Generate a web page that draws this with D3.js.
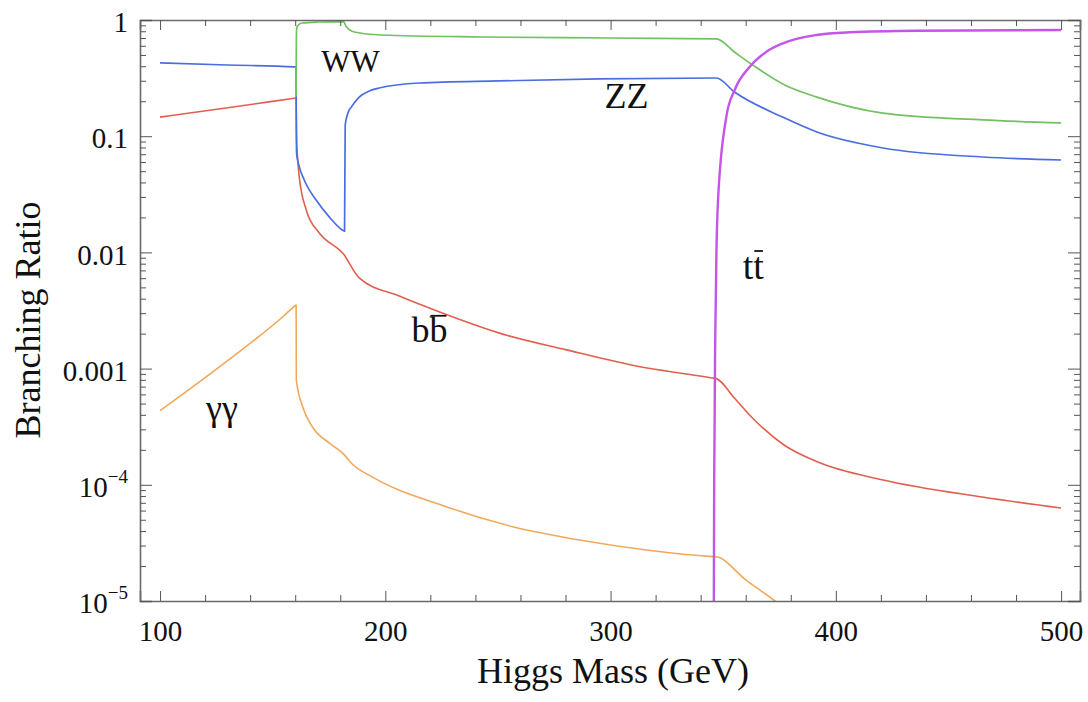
<!DOCTYPE html>
<html>
<head>
<meta charset="utf-8">
<script src="https://cdn.jsdelivr.net/npm/d3@7"></script>
<style>
  body { margin: 0; background: #fff; }
  svg text { font-family: "Liberation Serif", "Times New Roman", serif; fill: #111; }
  .curve { fill: none; stroke-linejoin: round; }
</style>
</head>
<body>
<script>
// branching ratios: [Higgs mass (GeV), BR]
const ww = [
  [160.4, 0.22], [160.5, 0.6], [160.6, 0.82], [161, 0.888], [163, 0.942], [170, 0.961],
  [181.5, 0.97], [182.5, 0.888], [186.3, 0.788], [198.2, 0.743], [242.7, 0.714],
  [300, 0.70], [347, 0.687], [355, 0.53], [363.1, 0.41], [377.3, 0.276], [391.6, 0.217],
  [420.9, 0.158], [465.3, 0.138], [500, 0.130]
];
const zz = [
  [100, 0.427], [130, 0.41], [159.5, 0.395], [160.4, 0.394], [160.5, 0.12], [160.6, 0.0713],
  [161.8, 0.0547], [164, 0.042], [169.3, 0.0282], [175.1, 0.0202], [180.9, 0.0156],
  [181.9, 0.0152], [182.2, 0.125], [183.6, 0.162], [184.9, 0.178], [188.4, 0.217],
  [192.9, 0.245], [197.3, 0.26], [215.1, 0.287], [250.7, 0.299], [295, 0.311], [347, 0.317],
  [355, 0.24], [376.4, 0.146], [391.6, 0.1087], [420.9, 0.0791], [465.3, 0.0662], [500, 0.0624]
];
const bb = [
  [100, 0.146], [130, 0.176], [159.5, 0.2118], [160.4, 0.213], [160.6, 0.093], [160.9, 0.0717],
  [161.8, 0.0446], [164.9, 0.0232], [170.7, 0.0147], [179.6, 0.0105], [181.8, 0.0095],
  [182.7, 0.0089], [188.4, 0.00603], [206.2, 0.00421], [225.3, 0.00301], [250.7, 0.00202],
  [280.4, 0.00145], [309.8, 0.00107], [345.3, 0.00083], [347, 0.00082], [355, 5.58e-4],
  [363, 3.76e-4], [377, 2.2e-4], [392, 1.57e-4], [421, 1.1e-4], [465, 7.85e-5], [500, 6.31e-5]
];
const gamgam = [
  [100, 4.34e-4], [130, 1.17e-3], [155, 2.85e-3], [159.5, 3.42e-3], [160.4, 3.53e-3],
  [160.45, 2.15e-3], [160.5, 7.98e-4], [163.3, 4.7e-4], [167.6, 3.16e-4], [175.1, 2.29e-4],
  [180.3, 1.93e-4], [181.8, 1.81e-4], [185.3, 1.51e-4], [194.2, 1.17e-4], [227, 6.48e-5],
  [256.6, 4.36e-5], [286.2, 3.35e-5], [315.9, 2.75e-5], [345.5, 2.41e-5], [347, 2.4e-5],
  [360, 1.52e-5], [373, 1.0e-5], [385, 6.5e-6]
];
const tt = [
  [345.8, 5e-6], [346, 1e-4], [346.5, 0.002], [347, 0.01], [347.7, 0.028], [351.4, 0.147],
  [355.1, 0.25], [361.8, 0.396], [369.2, 0.533], [376.5, 0.63], [391.4, 0.743],
  [406.2, 0.784], [435.9, 0.809], [500, 0.82]
];

const xMajor = [100, 200, 300, 400, 500];
const yMajor = [1, 0.1, 0.01, 0.001, 1e-4, 1e-5];
const yTickLabels = ["1", "0.1", "0.01", "0.001", "10|−4", "10|−5"];

const curveLabels = [
  { text: "WW", m: 171.6, br: 0.357, size: 31 },
  { text: "ZZ", m: 297.3, br: 0.175, size: 36 },
  { text: "bb", m: 211.6, br: 0.00168, size: 36, bar: true },
  { text: "tt", m: 358.7, br: 0.00589, size: 38, bar: true },
  { text: "γγ", m: 120.4, br: 3.6e-4, size: 36 }
];

const W = 1088, H = 702;
const margin = { left: 140, right: 1080, top: 20, bottom: 601 };

const svg = d3.select("body").append("svg").attr("width", W).attr("height", H);

const x = d3.scaleLinear().domain([91.1, 508.4]).range([margin.left, margin.right]);
const y = d3.scaleLog().domain([1e-5, 1]).range([margin.bottom, margin.top]);

svg.append("clipPath").attr("id", "plot-clip")
  .append("rect").attr("x", margin.left).attr("y", margin.top)
  .attr("width", margin.right - margin.left).attr("height", margin.bottom - margin.top);

const line = d3.line()
  .x((d) => x(d[0]))
  .y((d) => y(d[1]))
  .curve(d3.curveMonotoneX);

const series = [
  { data: gamgam, color: "#f0a95a", width: 1.6 },
  { data: bb, color: "#e0604f", width: 1.6 },
  { data: zz, color: "#4a6ee0", width: 1.7 },
  { data: ww, color: "#72c062", width: 1.7 },
  { data: tt, color: "#c455e6", width: 2.4 }
];

const lines = svg.append("g").attr("clip-path", "url(#plot-clip)");
series.forEach((s) => {
  lines.append("path")
    .attr("class", "curve")
    .attr("d", line(s.data))
    .attr("stroke", s.color)
    .attr("stroke-width", s.width);
});

// frame with inward ticks on all four sides
const xMinor = d3.range(100, 501, 20).filter((v) => v % 100 !== 0);
const yMinor = [];
for (let k = -5; k < 0; k++) {
  for (let j = 2; j <= 9; j++) yMinor.push(j * Math.pow(10, k));
}

const frame = svg.append("g").attr("class", "frame");

frame.append("g")
  .attr("transform", `translate(0,${margin.bottom})`)
  .call(d3.axisBottom(x).tickValues(xMajor).tickSize(-10).tickPadding(12).tickFormat(d3.format("d")))
  .call((g) => g.selectAll(".tick text").attr("font-size", 29).attr("dy", "0.95em"));
frame.append("g")
  .attr("transform", `translate(0,${margin.bottom})`)
  .call(d3.axisBottom(x).tickValues(xMinor).tickSize(-6).tickFormat(""))
  .call((g) => g.select(".domain").remove());

frame.append("g")
  .attr("transform", `translate(0,${margin.top})`)
  .call(d3.axisTop(x).tickValues(xMajor).tickSize(-10).tickFormat(""));
frame.append("g")
  .attr("transform", `translate(0,${margin.top})`)
  .call(d3.axisTop(x).tickValues(xMinor).tickSize(-6).tickFormat(""))
  .call((g) => g.select(".domain").remove());

const yLeft = frame.append("g")
  .attr("transform", `translate(${margin.left},0)`)
  .call(d3.axisLeft(y).tickValues(yMajor).tickSize(-12).tickPadding(12).tickFormat((d, i) => yTickLabels[i]));
yLeft.selectAll(".tick text")
  .attr("font-size", 29)
  .attr("dy", "0.4em")
  .each(function (d, i) {
    const parts = yTickLabels[i].split("|");
    if (parts.length < 2) return;
    const t = d3.select(this).text(parts[0]);
    t.append("tspan").attr("font-size", 19).attr("dy", "-0.75em").text(parts[1]);
  });
frame.append("g")
  .attr("transform", `translate(${margin.left},0)`)
  .call(d3.axisLeft(y).tickValues(yMinor).tickSize(-6).tickFormat(""))
  .call((g) => g.select(".domain").remove());

frame.append("g")
  .attr("transform", `translate(${margin.right},0)`)
  .call(d3.axisRight(y).tickValues(yMajor).tickSize(-12).tickFormat(""));
frame.append("g")
  .attr("transform", `translate(${margin.right},0)`)
  .call(d3.axisRight(y).tickValues(yMinor).tickSize(-6).tickFormat(""))
  .call((g) => g.select(".domain").remove());

frame.selectAll(".domain").attr("stroke", "#6a6a6a").attr("stroke-width", 1.6);
frame.selectAll(".tick line").attr("stroke", "#555");
frame.selectAll(".tick text").attr("fill", "#111").attr("font-family", '"Liberation Serif", serif');

// axis titles
svg.append("text")
  .attr("x", (margin.left + margin.right) / 2 + 3)
  .attr("y", 683)
  .attr("text-anchor", "middle")
  .attr("font-size", 36)
  .text("Higgs Mass (GeV)");

svg.append("text")
  .attr("transform", "translate(40,320) rotate(-90)")
  .attr("text-anchor", "middle")
  .attr("font-size", 36)
  .text("Branching Ratio");

// curve labels
curveLabels.forEach((l) => {
  const t = svg.append("text")
    .attr("x", x(l.m))
    .attr("y", y(l.br))
    .attr("font-size", l.size)
    .text(l.text);
  if (l.bar) {
    const r = t.node().getExtentOfChar(1);
    svg.append("line")
      .attr("x1", r.x + 1).attr("x2", r.x + r.width - 1)
      .attr("y1", y(l.br) - 0.74 * l.size).attr("y2", y(l.br) - 0.74 * l.size)
      .attr("stroke", "#111").attr("stroke-width", 1.8);
  }
});
</script>
</body>
</html>
